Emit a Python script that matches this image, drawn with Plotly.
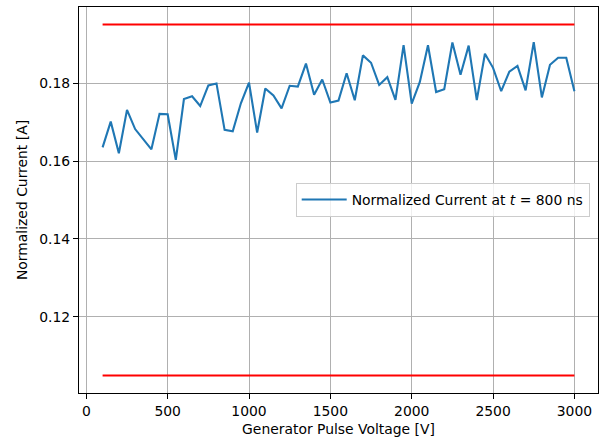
import plotly.graph_objects as go

voltage = list(range(100, 3001, 50))
current = [0.1635, 0.1701, 0.1620, 0.1731, 0.1682, 0.1655, 0.1630, 0.1721, 0.1720, 0.1603,
           0.1759, 0.1766, 0.1741, 0.1794, 0.1799, 0.1680, 0.1676, 0.1748, 0.1801, 0.1673,
           0.1786, 0.1768, 0.1735, 0.1793, 0.1791, 0.1850, 0.1770, 0.1809, 0.1750, 0.1755,
           0.1825, 0.1756, 0.1871, 0.1852, 0.1795, 0.1815, 0.1757, 0.1897, 0.1747, 0.1803,
           0.1897, 0.1777, 0.1784, 0.1904, 0.1821, 0.1896, 0.1756, 0.1875, 0.1839, 0.1779,
           0.1829, 0.1844, 0.1781, 0.1905, 0.1763, 0.1847, 0.1865, 0.1865, 0.1779]
limit_x = [100, 3000]
upper_limit = [0.195, 0.195]
lower_limit = [0.105, 0.105]
x_ticks = [0, 500, 1000, 1500, 2000, 2500, 3000]
y_ticks = [0.12, 0.14, 0.16, 0.18]

font = dict(family="DejaVu Sans", size=13.9, color="black")

fig = go.Figure()
fig.add_trace(go.Scatter(x=voltage, y=current, mode="lines",
                         line=dict(color="#1f77b4", width=2.1),
                         name="Normalized Current at <i>t</i> = 800 ns"))
fig.add_trace(go.Scatter(x=limit_x, y=upper_limit, mode="lines",
                         line=dict(color="red", width=2.1), showlegend=False))
fig.add_trace(go.Scatter(x=limit_x, y=lower_limit, mode="lines",
                         line=dict(color="red", width=2.1), showlegend=False))

axis_common = dict(showline=True, linecolor="black", linewidth=1.1, mirror=True,
                   ticks="outside", ticklen=5, tickwidth=1.1, tickcolor="black",
                   showgrid=True, gridcolor="#b0b0b0", gridwidth=1.1,
                   zeroline=False, tickfont=font, automargin=False)

fig.update_layout(
    width=600, height=441,
    margin=dict(l=79, r=2, t=7, b=48),
    paper_bgcolor="white", plot_bgcolor="white",
    font=font,
    xaxis=dict(range=[-45, 3145], tickvals=x_ticks,
               title=dict(text="Generator Pulse Voltage [V]", font=font, standoff=6),
               **axis_common),
    yaxis=dict(range=[0.1005, 0.1995], tickvals=y_ticks, tickformat=".2f",
               title=dict(text="Normalized Current [A]", font=font, standoff=8),
               **axis_common),
    legend=dict(x=0.984, y=0.5, xanchor="right", yanchor="middle",
                bordercolor="#cccccc", borderwidth=1, bgcolor="rgba(255,255,255,0.8)",
                font=font, itemwidth=45),
)

fig.write_html("out.html", config={"displayModeBar": False},
               post_script="document.body.style.margin='0';document.body.style.overflow='hidden';")
